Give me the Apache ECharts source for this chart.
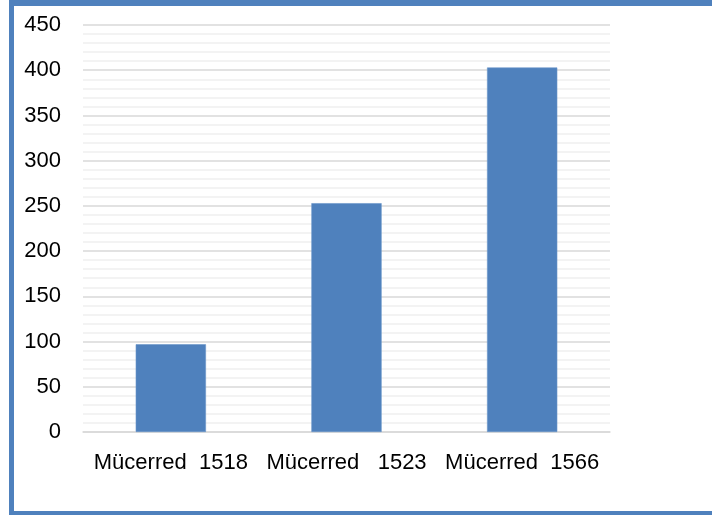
<!DOCTYPE html>
<html>
<head>
<meta charset="utf-8">
<script src="https://cdn.jsdelivr.net/npm/echarts@6/dist/echarts.min.js"></script>
<style>
html,body{margin:0;padding:0;background:#fff;}
#wrap{position:relative;width:712px;height:515px;overflow:hidden;}
#chart{position:absolute;left:0;top:0;width:712px;height:515px;}
#frame{position:absolute;left:9px;top:0;width:720px;height:505px;border-left:5px solid #4F81BD;border-top:6px solid #4F81BD;border-bottom:4px solid #4F81BD;pointer-events:none;}
</style>
</head>
<body>
<div id="wrap"><div id="chart"></div><div id="frame"></div></div>
<script>
const categories = ['Mücerred  1518', 'Mücerred   1523', 'Mücerred  1566'];
const values = [97, 253, 403];
const yTicks = [0, 50, 100, 150, 200, 250, 300, 350, 400, 450];

const chart = echarts.init(document.getElementById('chart'), null, {renderer: 'canvas'});
chart.setOption({
  animation: false,
  backgroundColor: '#ffffff',
  grid: {left: 83, right: 102, top: 25, bottom: 83, containLabel: false},
  xAxis: {
    type: 'category',
    data: categories,
    axisLine: {show: true, lineStyle: {color: '#D9D9D9', width: 1.5}},
    axisTick: {show: false},
    axisLabel: {color: '#000', fontSize: 22, fontFamily: 'Liberation Sans, Arial, sans-serif', margin: 20, interval: 0}
  },
  yAxis: {
    type: 'value',
    min: yTicks[0],
    max: yTicks[yTicks.length - 1],
    interval: 50,
    axisLine: {show: false},
    axisTick: {show: false},
    axisLabel: {color: '#000', fontSize: 22, fontFamily: 'Liberation Sans, Arial, sans-serif', margin: 22},
    splitLine: {show: true, lineStyle: {color: '#D9D9D9', width: 1.5}},
    minorTick: {show: false, splitNumber: 5},
    minorSplitLine: {show: true, lineStyle: {color: '#F0F0F0', width: 1.5}}
  },
  series: [{
    type: 'bar',
    data: values,
    barWidth: '40%',
    itemStyle: {color: '#4F81BD', borderColor: '#6A95CA', borderWidth: 0.6}
  }]
});
</script>
</body>
</html>
